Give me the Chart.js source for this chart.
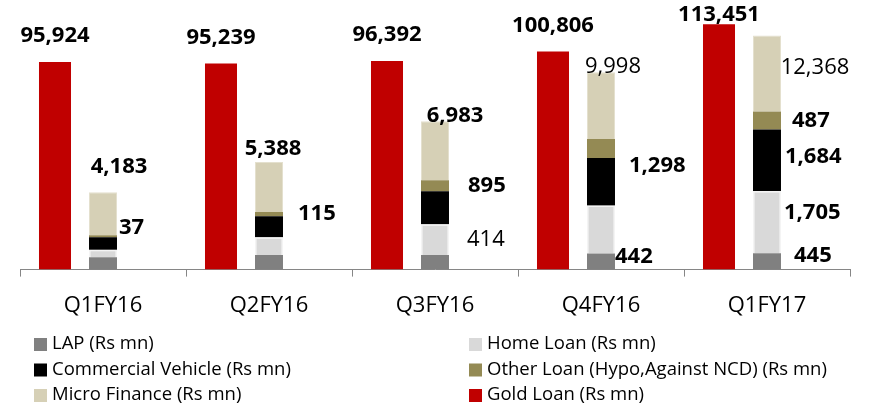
<!DOCTYPE html>
<html>
<head>
<meta charset="utf-8">
<script src="https://cdn.jsdelivr.net/npm/chart.js@4"></script>
<style>
  html, body { margin: 0; padding: 0; background: #fff; }
  canvas { display: block; }
</style>
</head>
<body>
<canvas id="chart" width="870" height="409"></canvas>
<script>
const categories = ['Q1FY16', 'Q2FY16', 'Q3FY16', 'Q4FY16', 'Q1FY17'];

// Rs mn
const goldLoan = [95924, 95239, 96392, 100806, 113451];
const lap = [341, 396, 396, 442, 445];
const homeLoan = [205, 492, 847, 1311, 1705];
const commercialVehicle = [341, 573, 901, 1298, 1684];
const otherLoan = [55, 115, 300, 519, 487];
const microFinance = [1174, 1365, 1611, 1830, 2083];

// numbers printed on the chart
const goldLabels = ['95,924', '95,239', '96,392', '100,806', '113,451'];
const mfLabels = ['4,183', '5,388', '6,983', '9,998', '12,368'];
const otherLabels = ['37', '115', '895', '', '487'];
const cvLabels = ['', '', '', '1,298', '1,684'];
const homeLabels = ['', '', '414', '', '1,705'];
const lapLabels = ['', '', '', '442', '445'];
const plainLabels = ['mf-3', 'mf-4', 'home-2'];   // these are not bold

const FONT = "'Open Sans', sans-serif";

// small nudges for label placement [dx, dy]
const mfNudge = [[16, -25], [4, -13], [20, -6], [12, -5], [48, 32]];
const sideNudge = {
    'other-0': [2, -8], 'other-1': [15, 0], 'other-2': [19, 0], 'home-2': [18, 0],
    'cv-3': [14, -16], 'lap-3': [0, -5], 'other-4': [11, 0], 'cv-4': [4, -3],
    'home-4': [3, -9], 'lap-4': [13, -6]
};

const labelPlugin = {
    id: 'valueLabels',
    afterDatasetsDraw(chart) {
        const ctx = chart.ctx;
        ctx.save();
        ctx.fillStyle = '#000';
        ctx.textBaseline = 'middle';
        const setFont = (key) => {
            const bold = plainLabels.indexOf(key) < 0;
            ctx.font = (bold ? 'bold ' : '') + '22px ' + FONT;
        };
        // gold loan, centred above bar
        chart.getDatasetMeta(0).data.forEach((bar, i) => {
            setFont('gold-' + i);
            ctx.textAlign = 'center';
            ctx.fillText(goldLabels[i], bar.x, Math.max(bar.y - 26, 15));
        });
        // micro finance, above stacked bar
        chart.getDatasetMeta(5).data.forEach((bar, i) => {
            setFont('mf-' + i);
            ctx.textAlign = 'center';
            ctx.fillText(mfLabels[i], bar.x + mfNudge[i][0], bar.y + mfNudge[i][1]);
        });
        // side labels
        const side = [[1, 'lap', lapLabels], [2, 'home', homeLabels], [3, 'cv', cvLabels], [4, 'other', otherLabels]];
        side.forEach(([di, name, labels]) => {
            chart.getDatasetMeta(di).data.forEach((bar, i) => {
                if (!labels[i]) return;
                const key = name + '-' + i;
                const n = sideNudge[key] || [10, 0];
                setFont(key);
                ctx.textAlign = 'left';
                ctx.fillText(labels[i], bar.x + bar.width / 2 + n[0], (bar.y + bar.base) / 2 + n[1]);
            });
        });
        ctx.restore();
    }
};

const legendPlugin = {
    id: 'gridLegend',
    afterDraw(chart) {
        const ctx = chart.ctx;
        const rows = [[1, 2], [3, 4], [5, 0]];
        const colX = [34, 469];
        const rowY = [344, 369.5, 395];
        ctx.save();
        ctx.font = '18.5px ' + FONT;
        ctx.textBaseline = 'middle';
        ctx.textAlign = 'left';
        rows.forEach((row, r) => {
            row.forEach((di, c) => {
                const ds = chart.data.datasets[di];
                ctx.fillStyle = ds.backgroundColor;
                ctx.fillRect(colX[c], rowY[r] - 6, 13, 13);
                ctx.fillStyle = '#000';
                ctx.fillText(ds.label, colX[c] + 18, rowY[r]);
            });
        });
        ctx.restore();
    }
};

const stackBar = 0.583;

new Chart(document.getElementById('chart'), {
    type: 'bar',
    data: {
        labels: categories,
        datasets: [
            { label: 'Gold Loan (Rs mn)', data: goldLoan, backgroundColor: '#C00000', stack: 'gold', yAxisID: 'y', barPercentage: 0.667 },
            { label: 'LAP (Rs mn)', data: lap, backgroundColor: '#808080', stack: 'other', yAxisID: 'y2', barPercentage: stackBar },
            { label: 'Home Loan (Rs mn)', data: homeLoan, backgroundColor: '#D9D9D9', borderColor: '#F4F4F4', borderWidth: 1.5, stack: 'other', yAxisID: 'y2', barPercentage: stackBar },
            { label: 'Commercial Vehicle (Rs mn)', data: commercialVehicle, backgroundColor: '#000000', stack: 'other', yAxisID: 'y2', barPercentage: stackBar },
            { label: 'Other Loan (Hypo,Against NCD) (Rs mn)', data: otherLoan, backgroundColor: '#948A54', stack: 'other', yAxisID: 'y2', barPercentage: stackBar },
            { label: 'Micro Finance (Rs mn)', data: microFinance, backgroundColor: '#D6D0B6', borderColor: '#E4E0CE', borderWidth: 1, stack: 'other', yAxisID: 'y2', barPercentage: stackBar },
            // empty slot so the stacked bar sits in the middle of the category
            { label: '', data: [null, null, null, null, null], stack: 'spacer', yAxisID: 'y2' }
        ]
    },
    options: {
        responsive: false,
        animation: false,
        devicePixelRatio: 1,
        layout: { padding: { left: 20, right: 20, top: 10, bottom: 74 } },
        datasets: { bar: { categoryPercentage: 0.8675 } },
        plugins: { legend: { display: false }, tooltip: { enabled: false } },
        scales: {
            x: {
                grid: { display: true, drawOnChartArea: false, drawTicks: true, tickLength: 7, color: '#868686' },
                border: { display: true, color: '#868686' },
                ticks: { color: '#000', font: { family: FONT, size: 22 }, padding: 16 }
            },
            y: { display: false, stacked: true, min: 0, max: 120000 },
            y2: { display: false, stacked: true, min: 0, max: 7100 }
        }
    },
    plugins: [labelPlugin, legendPlugin]
});
</script>
</body>
</html>
